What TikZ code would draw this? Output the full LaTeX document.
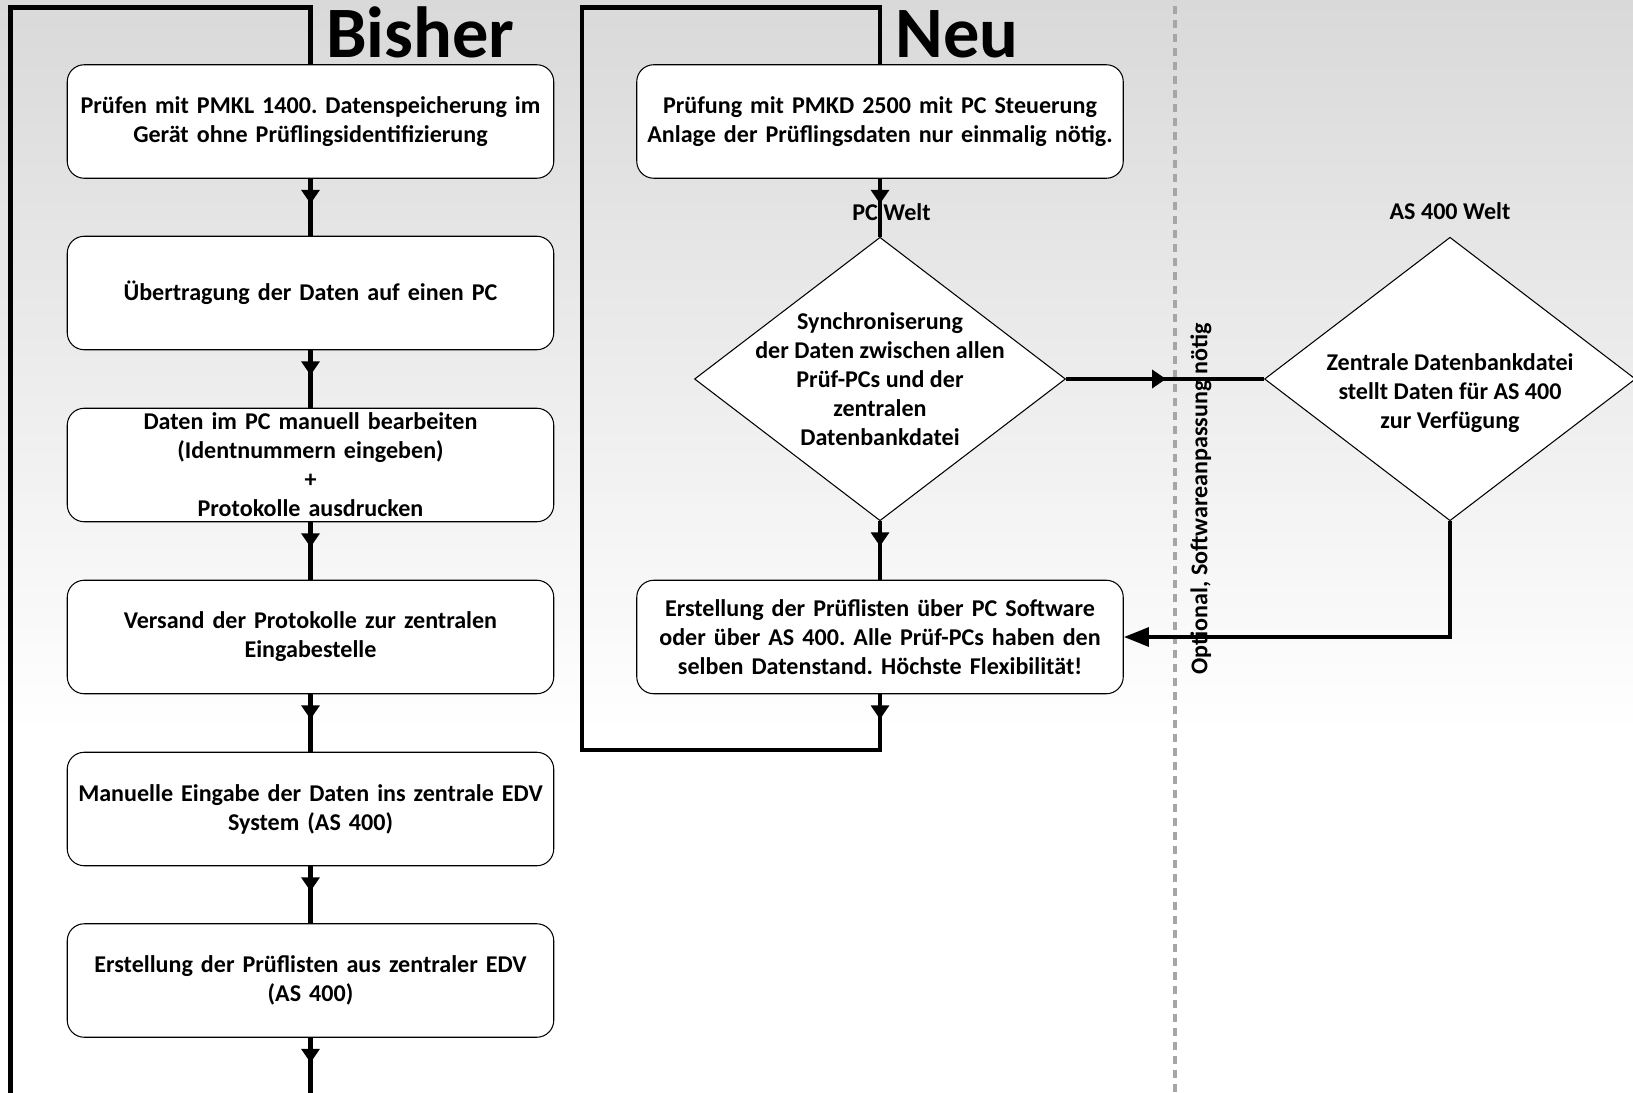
\documentclass[tikz,border=0pt]{standalone}
\usepackage{fontspec}
\setmainfont{Carlito}
\usetikzlibrary{shapes.geometric,arrows.meta,decorations.markings}
\newcommand\boxfont{\bfseries\fontsize{13.7}{16.5}\selectfont\frenchspacing}
\newcommand\titelfont{\bfseries\fontsize{41.2}{44}\selectfont}

\begin{document}
\begin{tikzpicture}[
    box/.style={draw, line width=0.6pt, fill=white, rounded corners=0.34cm,
        minimum width=9.73cm, minimum height=2.27cm, text width=9.6cm,
        align=center, inner sep=0pt, font=\boxfont},
    raute/.style={draw, line width=0.6pt, fill=white, diamond,
        minimum width=7.42cm, minimum height=5.67cm, inner sep=0pt},
    rautetext/.style={align=center, inner sep=0pt, font=\boxfont},
    welt/.style={inner sep=0pt, font=\boxfont},
    titel/.style={inner sep=0pt, anchor=base west, font=\titelfont},
    rahmen/.style={line width=2.4pt},
    arrowat/.style={postaction={decorate, decoration={markings,
        mark=at position #1 with {\arrow{Triangle[width=0.36cm,length=0.28cm]}}}}}
]
    \definecolor{bg_grey}{HTML}{D9D9D9}
    \definecolor{line_grey}{HTML}{A6A6A6}
    %\draw[help lines] (0,0) grid (33,22);
    \useasboundingbox (0,0) rectangle (32.66,21.84);
    \path[fill=white] (0,0) rectangle (32.66,7.20);
    \path[top color=bg_grey, bottom color=white] (0,7.20) rectangle (32.66,21.84);
    \draw[line_grey, line width=2pt, dash pattern=on 0.17cm off 0.11cm] (23.50,0) -- (23.50,21.84);

    \coordinate (bisherunten) at (0.21,-0.1);
    \coordinate (bisheroben) at (6.21,21.69);
    \coordinate (bisherende) at (6.21,-0.1);
    \coordinate (neuunten) at (11.64,6.84);
    \coordinate (neuoben) at (17.60,21.69);

    \node[titel] (bishertitel) at (6.52,20.69) {Bisher};
    \node[titel] (neutitel) at (17.91,20.69) {Neu};

    \node[box] (bisher1) at (6.21,19.41) {Prüfen mit PMKL 1400. Datenspeicherung im\\Gerät ohne Prüflingsidentifizierung};
    \node[box] (bisher2) at (6.21,15.98) {Übertragung der Daten auf einen PC};
    \node[box] (bisher3) at (6.21,12.54) {Daten im PC manuell bearbeiten\\(Identnummern eingeben)\\+\\Protokolle ausdrucken};
    \node[box] (bisher4) at (6.21,9.10) {Versand der Protokolle zur zentralen\\Eingabestelle};
    \node[box] (bisher5) at (6.21,5.66) {Manuelle Eingabe der Daten ins zentrale EDV\\System (AS 400)};
    \node[box] (bisher6) at (6.21,2.23) {Erstellung der Prüflisten aus zentraler EDV\\(AS 400)};

    \node[box] (neu1) at (17.60,19.41) {Prüfung mit PMKD 2500 mit PC Steuerung\\Anlage der Prüflingsdaten nur einmalig nötig.};
    \node[raute] (pcwelt) at (17.60,14.26) {};
    \node[rautetext] (synctext) at (pcwelt.center) {Synchroniserung\\der Daten zwischen allen\\Prüf-PCs und der\\zentralen\\Datenbankdatei};
    \node[box] (neu2) at (17.60,9.10) {Erstellung der Prüflisten über PC Software\\oder über AS 400. Alle Prüf-PCs haben den\\selben Datenstand. Höchste Flexibilität!};
    \node[raute] (aswelt) at (29.00,14.26) {};
    \node[rautetext] (astext) at ([yshift=-0.29cm]aswelt.center) {Zentrale Datenbankdatei\\stellt Daten für AS 400\\zur Verfügung};

    \node[welt] (pclabel) at (17.83,17.59) {PC Welt};
    \node[welt] (aslabel) at (29.00,17.61) {AS 400 Welt};
    \node[welt, rotate=90] (optional) at (24.02,11.86) {Optional, Softwareanpassung nötig};

    \draw[rahmen, arrowat=0.5cm] (bisher1) -- (bisher2);
    \draw[rahmen, arrowat=0.5cm] (bisher2) -- (bisher3);
    \draw[rahmen, arrowat=0.5cm] (bisher3) -- (bisher4);
    \draw[rahmen, arrowat=0.5cm] (bisher4) -- (bisher5);
    \draw[rahmen, arrowat=0.5cm] (bisher5) -- (bisher6);
    \draw[rahmen, arrowat=0.5cm] (bisher6) -- (bisherende);
    \draw[rahmen] (bisherunten) |- (bisheroben) -- (bisher1);

    \draw[rahmen, arrowat=0.5cm] (neu1) -- (pcwelt);
    \draw[rahmen, arrowat=0.5cm] (pcwelt) -- (neu2);
    \draw[rahmen, arrowat=0.5cm] (neu2) |- (neuunten) |- (neuoben) -- (neu1);
    \draw[rahmen, arrowat=2.0cm] (pcwelt) -- (aswelt);
    \draw[rahmen, -{Triangle[width=0.37cm,length=0.5cm]}] (aswelt) |- (neu2);
\end{tikzpicture}
\end{document}
